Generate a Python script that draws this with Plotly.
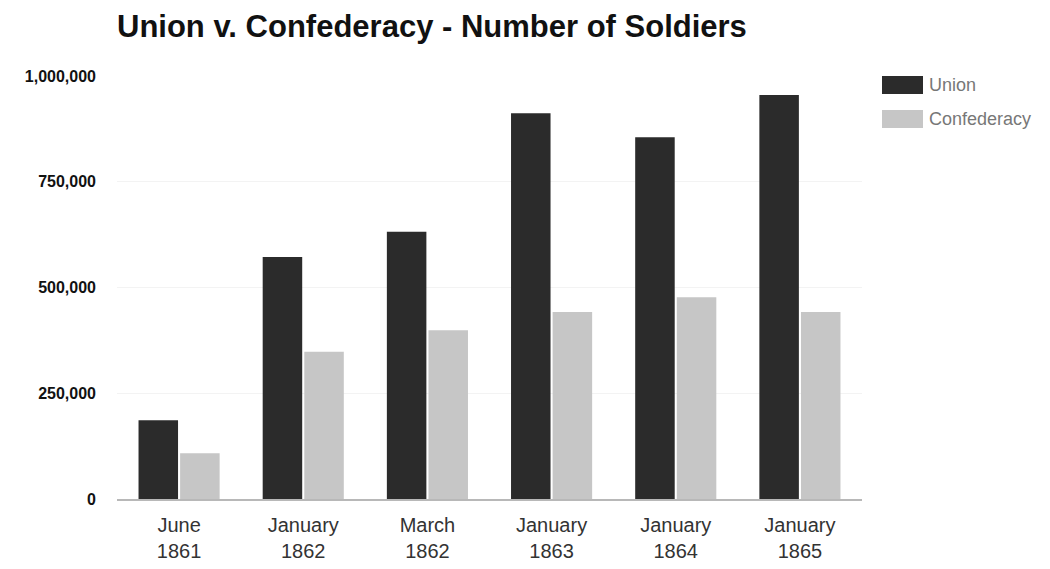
import plotly.graph_objects as go

categories = ["June<br>1861", "January<br>1862", "March<br>1862", "January<br>1863", "January<br>1864", "January<br>1865"]
union = [186000, 572000, 632000, 912000, 855000, 955000]
confederacy = [108000, 348000, 399000, 442000, 477000, 442000]
y_ticks = [0, 250000, 500000, 750000, 1000000]
y_tick_labels = ["0", "250,000", "500,000", "750,000", "1,000,000"]

UNION_COLOR = "#2b2b2b"
CONF_COLOR = "#c6c6c6"
FONT = "Liberation Sans, Arial, sans-serif"

fig = go.Figure()
fig.add_trace(go.Bar(name="Union", x=categories, y=union, marker=dict(color=UNION_COLOR, line=dict(width=0)), showlegend=False))
fig.add_trace(go.Bar(name="Confederacy", x=categories, y=confederacy, marker=dict(color=CONF_COLOR, line=dict(width=0)), showlegend=False))

fig.update_layout(
    width=1050, height=569,
    margin=dict(l=117, r=188, t=76, b=70),
    paper_bgcolor="white", plot_bgcolor="white",
    barmode="group", bargap=0.33, bargroupgap=0.05,
    font=dict(family=FONT, color="#222"),
    title=dict(text="<b>Union v. Confederacy - Number of Soldiers</b>", x=117/1050, xanchor="left",
               y=1 - 26/569, yanchor="middle", font=dict(size=31, color="#111", family=FONT)),
    xaxis=dict(showgrid=False, showline=True, linecolor="#b8b8b8", linewidth=2, automargin=False,
               tickfont=dict(size=20, color="#333"), ticks="", ticklabelstandoff=7),
    yaxis=dict(range=[0, 1000000], tickvals=y_ticks, ticktext=["<b>%s</b>" % t for t in y_tick_labels],
               showgrid=True, gridcolor="#f3f3f3", zeroline=False, showline=False, automargin=False,
               tickfont=dict(size=16, color="#111"), ticks="", ticklabelstandoff=20),
)

# Manual legend (rectangular swatches)
legend_items = [("Union", UNION_COLOR), ("Confederacy", CONF_COLOR)]
for i, (name, col) in enumerate(legend_items):
    yc = 85 + i * 34
    fig.add_shape(type="rect", xref="paper", yref="paper",
                  x0=(882 - 117) / (1050 - 117 - 188), x1=(923 - 117) / (1050 - 117 - 188),
                  y0=(499 - (yc + 9)) / (499 - 76), y1=(499 - (yc - 9)) / (499 - 76),
                  fillcolor=col, line=dict(width=0))
    fig.add_annotation(xref="paper", yref="paper", x=(927 - 117) / (1050 - 117 - 188),
                       y=(499 - yc) / (499 - 76), text=name, showarrow=False,
                       xanchor="left", yanchor="middle", font=dict(size=18, color="#777", family=FONT))

fig.write_html("out.html")
